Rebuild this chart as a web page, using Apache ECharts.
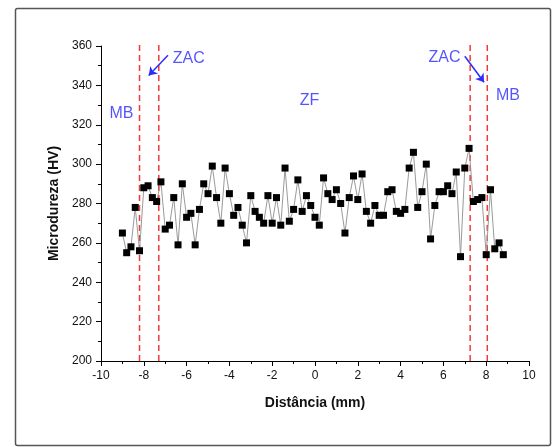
<!DOCTYPE html>
<html>
<head>
<meta charset="utf-8">
<script src="https://cdn.jsdelivr.net/npm/echarts@6/dist/echarts.min.js"></script>
<style>
html,body{margin:0;padding:0;background:#fff;}
#c{width:555px;height:447px;}
</style>
</head>
<body>
<div id="c"></div>
<script>
// Distance (mm)
var distancia = [-9.0,-8.8,-8.6,-8.4,-8.2,-8.0,-7.8,-7.6,-7.4,-7.2,-7.0,-6.8,-6.6,-6.4,-6.2,-6.0,-5.8,-5.6,-5.4,-5.2,
  -5.0,-4.8,-4.6,-4.4,-4.2,-4.0,-3.8,-3.6,-3.4,-3.2,-3.0,-2.8,-2.6,-2.4,-2.2,-2.0,-1.8,-1.6,-1.4,-1.2,
  -1.0,-0.8,-0.6,-0.4,-0.2,0.0,0.2,0.4,0.6,0.8,1.0,1.2,1.4,1.6,1.8,2.0,2.2,2.4,2.6,2.8,
  3.0,3.2,3.4,3.6,3.8,4.0,4.2,4.4,4.6,4.8,5.0,5.2,5.4,5.6,5.8,6.0,6.2,6.4,6.6,6.8,
  7.0,7.2,7.4,7.6,7.8,8.0,8.2,8.4,8.6,8.8];
// Microhardness (HV)
var microdureza = [265,255,258,278,256,288,289,283,281,291,267,269,283,259,290,273,275,259,277,290,
  285,299,283,270,298,285,274,278,269,260,284,276,273,270,284,270,283,269,298,271,
  277,292,276,284,279,273,269,293,285,282,287,280,265,283,294,282,295,276,270,279,
  274,274,286,287,276,275,277,298,306,278,286,300,262,279,286,286,289,285,296,253,
  298,308,281,282,283,254,287,257,260,254];
// Zone boundaries (mm)
var limitesZona = [-8.2, -7.3, 7.25, 8.05];
var limiteTopo = 362.5;
// Annotation labels: [x, y, text]
var rotulos = [[-5.9, 353.6, 'ZAC'], [-9.04, 325.9, 'MB'], [-0.26, 332.5, 'ZF'], [6.05, 354.2, 'ZAC'], [9.02, 334.7, 'MB']];
// Arrows: [x0, y0, x1, y1]
var setas = [[-6.87, 355.3, -7.77, 345.0], [7.0, 354.8, 7.9, 341.6]];
var xTicks = {min: -10, max: 10, interval: 2};
var yTicks = {min: 200, max: 360, interval: 20};

var FONT = '"Liberation Sans", Arial, sans-serif';
var BLUE = '#2b2bff';

var chart = echarts.init(document.getElementById('c'), null, {renderer: 'canvas'});

var series = [];
series.push({
  type: 'line',
  data: distancia.map(function (x, i) { return [x, microdureza[i]]; }),
  symbol: 'rect',
  symbolSize: 7,
  itemStyle: {color: '#000'},
  lineStyle: {color: '#9a9a9a', width: 1},
  z: 5,
  animation: false
});
limitesZona.forEach(function (x) {
  series.push({
    type: 'line',
    data: [[x, yTicks.min], [x, limiteTopo]],
    symbol: 'none',
    clip: false,
    lineStyle: {color: '#f23a3a', width: 1.5, type: [6, 4]},
    z: 3,
    animation: false
  });
});
series.push({
  type: 'scatter',
  data: rotulos,
  symbolSize: 1,
  itemStyle: {color: 'rgba(0,0,0,0)'},
  clip: false,
  label: {
    show: true, position: 'inside',
    formatter: function (p) { return p.value[2]; },
    color: BLUE, fontSize: 16, fontFamily: FONT
  },
  silent: true,
  animation: false,
  markLine: {
    silent: true,
    symbol: ['none', 'arrow'],
    symbolSize: 8,
    label: {show: false},
    lineStyle: {color: BLUE, width: 1.5, type: 'solid'},
    data: setas.map(function (s) {
      return [{coord: [s[0], s[1]]}, {coord: [s[2], s[3]]}];
    }),
    animation: false
  }
});

chart.setOption({
  animation: false,
  backgroundColor: '#fff',
  grid: {left: 101, right: 26, top: 46, bottom: 86, containLabel: false, outerBoundsMode: 'none'},
  xAxis: {
    type: 'value', min: xTicks.min, max: xTicks.max, interval: xTicks.interval,
    name: 'Distância (mm)', nameLocation: 'middle', nameGap: 35,
    nameTextStyle: {fontFamily: FONT, fontSize: 14, fontWeight: 'bold', color: '#111'},
    axisLine: {show: true, onZero: false, lineStyle: {color: '#000', width: 1}},
    axisTick: {show: true, inside: false, length: 5, lineStyle: {color: '#000'}},
    minorTick: {show: true, splitNumber: 2, length: 3, lineStyle: {color: '#000'}},
    axisLabel: {fontFamily: FONT, fontSize: 12, color: '#111', margin: 9, showMinLabel: true, showMaxLabel: true},
    splitLine: {show: false}
  },
  yAxis: {
    type: 'value', min: yTicks.min, max: yTicks.max, interval: yTicks.interval,
    name: 'Microdureza (HV)', nameLocation: 'middle', nameGap: 33,
    nameTextStyle: {fontFamily: FONT, fontSize: 14, fontWeight: 'bold', color: '#111'},
    axisLine: {show: true, onZero: false, lineStyle: {color: '#000', width: 1}},
    axisTick: {show: true, inside: false, length: 5, lineStyle: {color: '#000'}},
    minorTick: {show: true, splitNumber: 2, length: 3, lineStyle: {color: '#000'}},
    axisLabel: {fontFamily: FONT, fontSize: 12, color: '#111', margin: 9, showMinLabel: true, showMaxLabel: true},
    splitLine: {show: false}
  },
  graphic: [{
    type: 'rect', left: 13, top: 6, silent: true,
    shape: {width: 535, height: 437, r: 2},
    style: {fill: 'none', stroke: '#555', lineWidth: 1.5}
  }],
  series: series
});
</script>
</body>
</html>
